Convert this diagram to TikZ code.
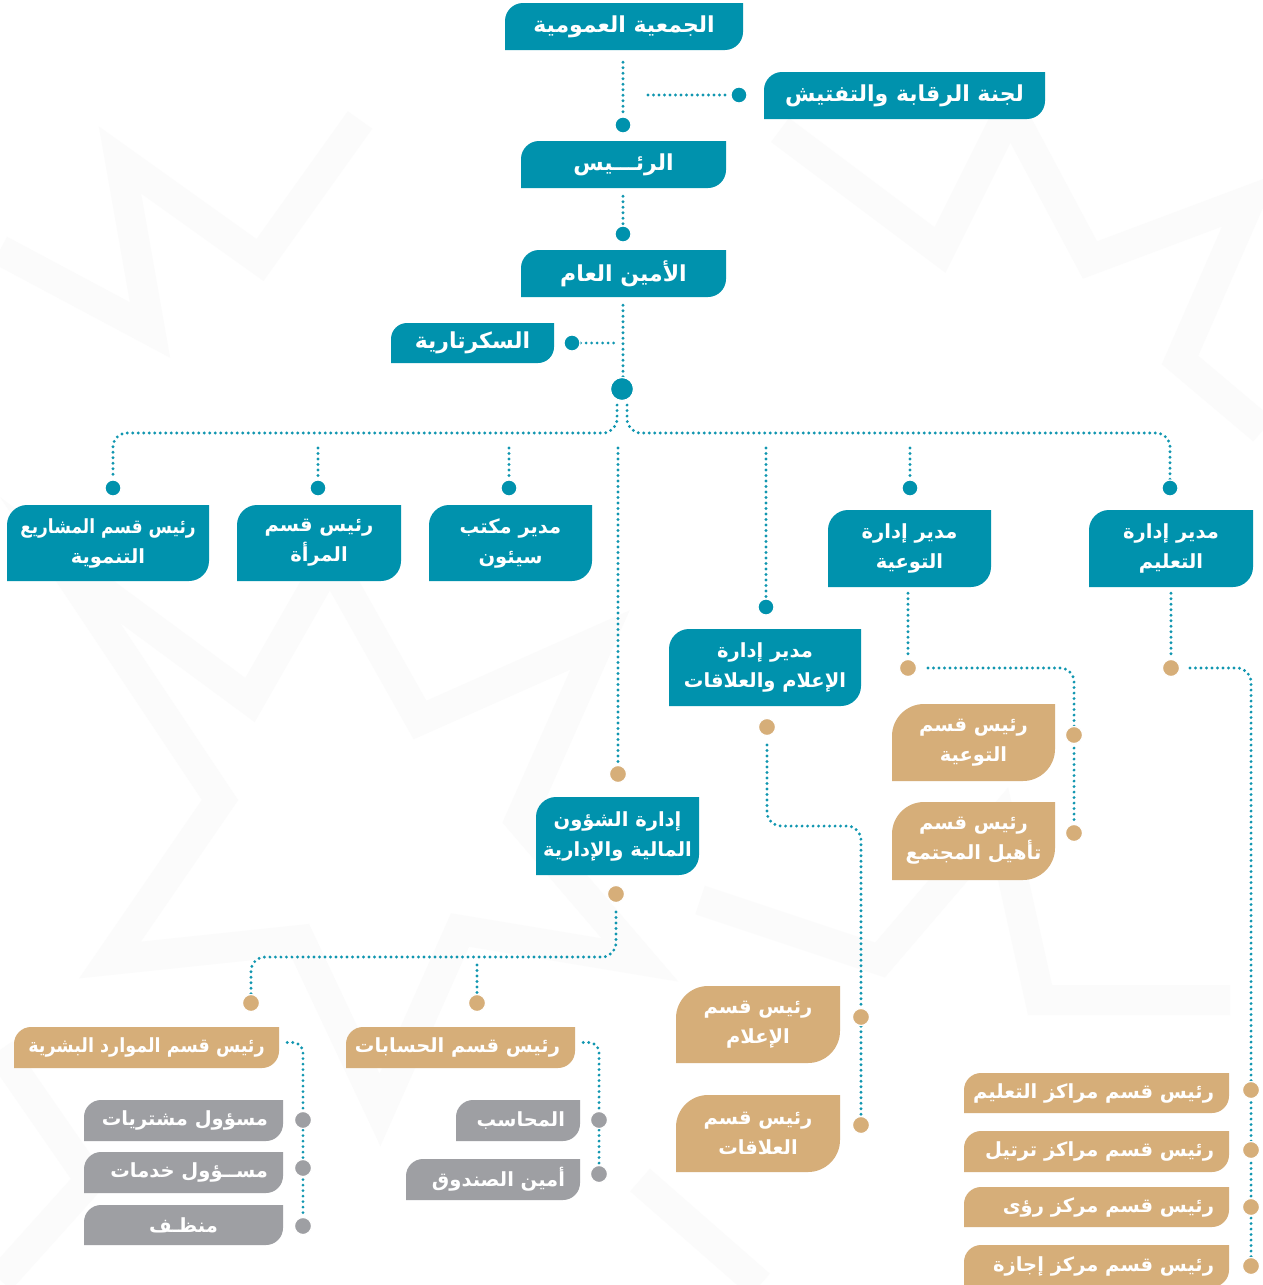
\documentclass[tikz,border=0pt]{standalone}
\usepackage{fontspec}
\usepackage{graphicx}
\TeXXeTstate=1
\newfontfamily\arabicfont[Script=Arabic]{DejaVu Sans}
\usetikzlibrary{calc}
\pgfdeclarelayer{back}
\pgfdeclarelayer{bg}
\pgfsetlayers{back,bg,main}
\definecolor{bteal}{RGB}{0,146,173}
\definecolor{btan}{RGB}{214,174,121}
\definecolor{bgrey}{RGB}{158,159,163}
\definecolor{lteal}{RGB}{16,150,176}
\definecolor{pat}{RGB}{251,251,251}
\newcommand\ar[1]{\beginR#1\endR}
\newcommand\narrow[2]{\scalebox{#1}[1]{#2}}
\tikzset{
  boxtext/.style={inner sep=0pt, text=white,
    font=\arabicfont\bfseries\fontsize{19.5}{30}\selectfont},
  bigtext/.style={font=\arabicfont\bfseries\fontsize{22}{30}\selectfont},
  dotline/.style={draw=lteal, line width=3.2pt, line cap=round, dash pattern=on 0pt off 5.5pt},
  dotT/.style={circle, fill=bteal, draw=white, line width=1.2pt, minimum size=16pt, inner sep=0pt},
  dotN/.style={circle, fill=btan, draw=white, line width=1.2pt, minimum size=17pt, inner sep=0pt},
  dotG/.style={circle, fill=bgrey, draw=white, line width=1.2pt, minimum size=17pt, inner sep=0pt},
  patband/.style={draw=pat, line width=30pt, line join=miter},
}
\newcommand\boxshape[5]{% colour, radius, x1,y1,x2  (y2 in \yy)
  \fill[#1] (#3,#4+#2) .. controls (#3,#4+0.45*#2) and (#3+0.45*#2,#4) .. (#3+#2,#4)
    -- (#5,#4) -- (#5,\yy-#2) .. controls (#5,\yy-0.45*#2) and (#5-0.45*#2,\yy) .. (#5-#2,\yy)
    -- (#3,\yy) -- cycle;}
% [#1 extra style] #2 name, #3 colour, #4 radius, #5 x1, #6 y1, #7 x2, #8 y2, #9 text
\newcommand\obox[9][]{%
  \def\yy{#8}\boxshape{#3}{#4}{#5}{#6}{#7}%
  \pgfmathsetmacro\boxw{#7-#5}\pgfmathsetmacro\boxh{#8-#6}%
  \node[boxtext, align=center, minimum width=\boxw pt, minimum height=\boxh pt, #1] (#2)
    at ({(#5+#7)/2},{(#6+#8)/2}) {#9};}
% right-aligned single line, margin 15
\newcommand\rbox[9][]{%
  \def\yy{#8}\boxshape{#3}{#4}{#5}{#6}{#7}%
  \pgfmathsetmacro\boxw{#7-#5}\pgfmathsetmacro\boxh{#8-#6}\pgfmathsetmacro\innw{#7-#5-30}%
  \node[boxtext, minimum width=\boxw pt, minimum height=\boxh pt, #1] (#2)
    at ({(#5+#7)/2},{(#6+#8)/2}) {\makebox[\innw pt][r]{#9}};}
\begin{document}
\begin{tikzpicture}[x=1pt,y=-1pt]
\useasboundingbox (0,0) rectangle (1263,1285);
\begin{pgfonlayer}{back}
\fill[white] (0,0) rectangle (1263,1285);
\begin{scope}
\clip (0,0) rectangle (1263,1285);
% faint background pattern
\draw[patband] (60,560) -- (250,700) -- (330,560) -- (420,720) -- (600,640) -- (520,820) -- (640,960) -- (460,930) -- (380,1110) -- (300,940) -- (110,960) -- (220,800) -- cycle;
\draw[patband] (780,130) -- (940,250) -- (1010,110) -- (1090,260) -- (1250,200) -- (1180,360) -- (1263,430);
\draw[patband] (0,250) -- (150,330) -- (120,160) -- (260,260) -- (360,120);
\draw[patband] (700,900) -- (880,960) -- (1000,820) -- (1040,1000) -- (1230,1000);
\draw[patband] (0,1050) -- (90,1180) -- (0,1280);
\draw[patband] (640,1180) -- (760,1285);
\end{scope}
\end{pgfonlayer}
% ---- boxes
\obox[bigtext]{gen}{bteal}{18}{505}{3}{743}{50}{\ar{الجمعية العمومية}}
\obox[bigtext]{lajna}{bteal}{18}{764}{72}{1045}{119}{\ar{لجنة الرقابة والتفتيش}}
\obox[bigtext]{pres}{bteal}{18}{521}{141}{726}{188}{\ar{الرئـــيس}}
\obox[bigtext]{amin}{bteal}{18}{521}{250}{726}{297}{\ar{الأمين العام}}
\obox[bigtext]{sec}{bteal}{16}{391}{323}{554}{363}{\ar{السكرتارية}}
\obox{b6}{bteal}{20}{7}{505}{209}{581}{\narrow{0.87}{\ar{رئيس قسم المشاريع}}\\\ar{التنموية}}
\obox{b7}{bteal}{20}{237}{505}{401}{581}{\ar{رئيس قسم}\\\ar{المرأة}}
\obox{b8}{bteal}{20}{429}{505}{592}{581}{\ar{مدير مكتب}\\\ar{سيئون}}
\obox{b9}{bteal}{20}{828}{510}{991}{587}{\ar{مدير إدارة}\\\ar{التوعية}}
\obox{b10}{bteal}{20}{1089}{510}{1253}{587}{\ar{مدير إدارة}\\\ar{التعليم}}
\obox{b11}{bteal}{20}{669}{629}{861}{706}{\ar{مدير إدارة}\\\ar{الإعلام والعلاقات}}
\obox{b12}{bteal}{20}{536}{797}{699}{875}{\ar{إدارة الشؤون}\\\ar{المالية والإدارية}}
\obox{t13}{btan}{32}{892}{704}{1055}{781}{\ar{رئيس قسم}\\\ar{التوعية}}
\obox{t14}{btan}{32}{892}{802}{1055}{880}{\ar{رئيس قسم}\\\ar{تأهيل المجتمع}}
\obox{t15}{btan}{32}{676}{986}{840}{1063}{\ar{رئيس قسم}\\\ar{الإعلام}}
\obox{t16}{btan}{32}{676}{1095}{840}{1172}{\ar{رئيس قسم}\\\ar{العلاقات}}
\rbox{t17}{btan}{17}{964}{1073}{1229}{1113}{\ar{رئيس قسم مراكز التعليم}}
\rbox{t18}{btan}{17}{964}{1131}{1229}{1172}{\ar{رئيس قسم مراكز ترتيل}}
\rbox{t19}{btan}{17}{964}{1187}{1229}{1227}{\ar{رئيس قسم مركز رؤى}}
\rbox{t20}{btan}{17}{964}{1245}{1229}{1287}{\ar{رئيس قسم مركز إجازة}}
\obox{t21}{btan}{17}{14}{1027}{279}{1068}{\narrow{0.9}{\ar{رئيس قسم الموارد البشرية}}}
\rbox{t22}{btan}{17}{346}{1027}{575}{1068}{\ar{رئيس قسم الحسابات}}
\rbox{g23}{bgrey}{17}{84}{1100}{283}{1141}{\ar{مسؤول مشتريات}}
\rbox{g24}{bgrey}{17}{84}{1152}{283}{1193}{\ar{مســؤول خدمات}}
\obox{g25}{bgrey}{17}{84}{1205}{283}{1245}{\ar{منظـف}}
\rbox{g26}{bgrey}{17}{456}{1100}{580}{1141}{\ar{المحاسب}}
\rbox{g27}{bgrey}{17}{406}{1159}{580}{1200}{\ar{أمين الصندوق}}
% ---- dots
\node[dotT] (dA) at (623,125) {};
\node[dotT] (dL) at (739,95) {};
\node[dotT] (dB) at (623,234) {};
\node[dotT] (dS) at (572,343) {};
\node[dotT, minimum size=23pt] (dC) at (622,389) {};
\node[dotT] (d6) at (113,488) {};
\node[dotT] (d7) at (318,488) {};
\node[dotT] (d8) at (509,488) {};
\node[dotT] (d9) at (910,488) {};
\node[dotT] (d10) at (1170,488) {};
\node[dotT] (d11) at (766,607) {};
\node[dotN] (n12) at (618,774) {};
\node[dotN] (n9) at (908,668) {};
\node[dotN] (n13) at (1074,735) {};
\node[dotN] (n14) at (1074,833) {};
\node[dotN] (n10) at (1171,668) {};
\node[dotN] (n17) at (1251,1090) {};
\node[dotN] (n18) at (1251,1150) {};
\node[dotN] (n19) at (1251,1207) {};
\node[dotN] (n20) at (1251,1266) {};
\node[dotN] (n11) at (767,727) {};
\node[dotN] (n15) at (861,1017) {};
\node[dotN] (n16) at (861,1125) {};
\node[dotN] (n12b) at (616,894) {};
\node[dotN] (n21) at (251,1003) {};
\node[dotN] (n22) at (477,1003) {};
\node[dotG] (g23d) at (303,1120) {};
\node[dotG] (g24d) at (303,1168) {};
\node[dotG] (g25d) at (303,1226) {};
\node[dotG] (g26d) at (599,1120) {};
\node[dotG] (g27d) at (599,1174) {};
\coordinate (cL) at (648,95);
\coordinate (hL) at (113,433);
\coordinate (hR) at (1170,433);
\coordinate (kM) at (861,826);
\coordinate (kF) at (251,957);
% ---- connectors
\begin{pgfonlayer}{bg}
\draw[dotline] ([yshift=-12pt]dA |- gen.south) -- (dA);
\draw[dotline] (cL) -- (dL);
\draw[dotline] ([yshift=-8pt]dB |- pres.south) -- (dB);
\draw[dotline] ([yshift=-8pt]dA |- amin.south) -- (dA |- dC);
\draw[dotline, shorten >=9pt] (dS) -- (dS -| dA);
\draw[dotline, rounded corners=14pt] ([xshift=-5pt,yshift=-4pt]dC.south) -- ([xshift=-5pt]dC.south |- hL) -- (hL) -- (d6);
\draw[dotline, rounded corners=14pt] ([xshift=5pt,yshift=-4pt]dC.south) -- ([xshift=5pt]dC.south |- hR) -- (hR) -- (d10);
\draw[dotline] ([yshift=-15pt]d7 |- hL) -- (d7);
\draw[dotline] ([yshift=-15pt]d8 |- hL) -- (d8);
\draw[dotline] ([yshift=-15pt]d9 |- hL) -- (d9);
\draw[dotline] ([yshift=-15pt]d11 |- hL) -- (d11);
\draw[dotline] ([yshift=-15pt]n12 |- hL) -- (n12);
\draw[dotline] ([yshift=-6pt]n9 |- b9.south) -- (n9);
\draw[dotline, rounded corners=14pt] ([xshift=20pt]n9.center) -- (n9 -| n13) -- (n14);
\draw[dotline] ([yshift=-6pt]n10 |- b10.south) -- (n10);
\draw[dotline, rounded corners=14pt] ([xshift=19pt]n10.center) -- (n10 -| n20) -- (n20);
\draw[dotline, rounded corners=14pt] ([yshift=-18pt]n11.center) -- (n11 |- kM) -- (kM) -- (n16);
\draw[dotline, rounded corners=14pt] ([yshift=-18pt]n12b.center) -- (n12b |- kF) -- (kF) -- (n21);
\draw[dotline] ([yshift=-8pt]n22 |- kF) -- (n22);
\draw[dotline, rounded corners=10pt] ([xshift=8pt,yshift=5pt]t21.east) -- ([yshift=5pt]t21.east -| g25d) -- (g25d);
\draw[dotline, rounded corners=10pt] ([xshift=8pt,yshift=5pt]t22.east) -- ([yshift=5pt]t22.east -| g27d) -- (g27d);
\end{pgfonlayer}
\end{tikzpicture}
\end{document}
